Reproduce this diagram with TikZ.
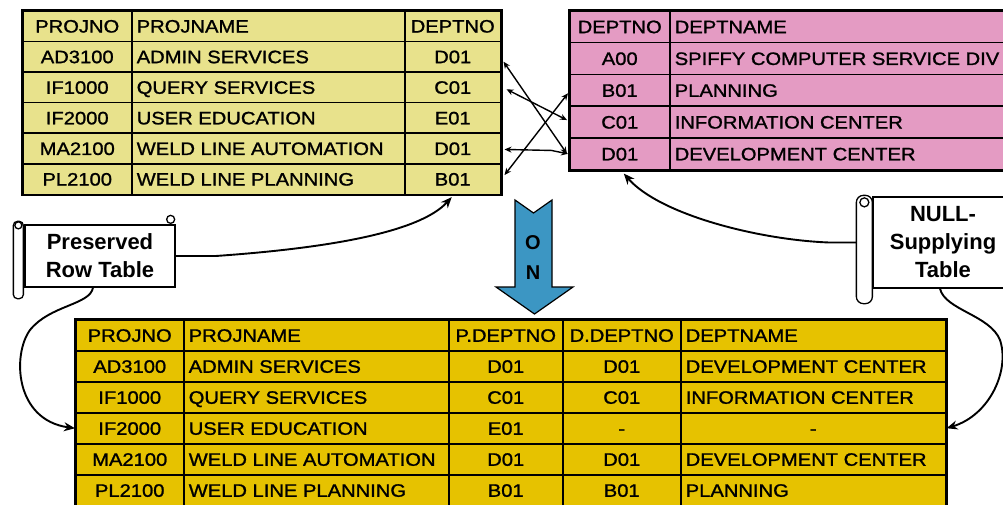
\documentclass[tikz,border=0pt]{standalone}
\usepackage{fontspec}
\setmainfont{Liberation Sans}
\newfontfamily\tabfont{Liberation Sans}[FakeStretch=1.12,FakeBold=1.2]
\usetikzlibrary{arrows.meta,calc}
\definecolor{lightyel}{RGB}{232,226,140}
\definecolor{pinkc}{RGB}{228,155,195}
\definecolor{goldc}{RGB}{230,194,0}
\definecolor{arrowblue}{RGB}{60,150,195}
\tikzset{
  cellbase/.style={draw=black, line width=1.5pt, anchor=north west, inner xsep=5pt, inner ysep=0pt,
    text height=13pt, text depth=0pt, font=\tabfont\fontsize{18}{18}\selectfont},
  outerline/.style={draw=black, line width=2.2pt},
  scrollbox/.style={draw=black, fill=white, line width=1.3pt, inner sep=0pt, align=center,
    font=\bfseries\fontsize{22}{28}\selectfont},
  scrollline/.style={draw=black, fill=white, line width=1.3pt},
  conn/.style={line width=1.9pt, -{Stealth[length=11pt,width=9pt]}},
  cross/.style={line width=1.4pt, {Stealth[length=7pt,width=6pt]}-{Stealth[length=7pt,width=6pt]}},
}
\newcommand\tcell[8]{\node[cellbase, fill=#6, minimum width=#4pt, minimum height=#5pt] (#1) at (#2,#3) {\makebox[\dimexpr#4pt-10pt\relax][#7]{#8}};}
\begin{document}
\begin{tikzpicture}[x=1pt,y=-1pt]
\useasboundingbox (0,0) rectangle (1003,504);
\clip (0,0) rectangle (1003,504);

% left (preserved row) table
\foreach \i/\a/\b/\c in {0/PROJNO/PROJNAME/DEPTNO,1/AD3100/ADMIN SERVICES/D01,2/IF1000/QUERY SERVICES/C01,3/IF2000/USER EDUCATION/E01,4/MA2100/WELD LINE AUTOMATION/D01,5/PL2100/WELD LINE PLANNING/B01}{
  \pgfmathsetmacro\yy{10+30.6*\i}
  \tcell{L-\i-1}{22}{\yy}{109}{30.6}{lightyel}{c}{\a}
  \tcell{L-\i-2}{131}{\yy}{273}{30.6}{lightyel}{l}{\b}
  \tcell{L-\i-3}{404}{\yy}{96}{30.6}{lightyel}{c}{\c}
}
\draw[outerline] (L-0-1.north west) rectangle (L-5-3.south east);

% right (null-supplying) table
\foreach \i/\a/\b in {0/DEPTNO/DEPTNAME,1/A00/SPIFFY COMPUTER SERVICE DIV,2/B01/PLANNING,3/C01/INFORMATION CENTER,4/D01/DEVELOPMENT CENTER}{
  \pgfmathsetmacro\yy{10+31.8*\i}
  \tcell{P-\i-1}{569}{\yy}{100}{31.8}{pinkc}{c}{\a}
  \tcell{P-\i-2}{669}{\yy}{360}{31.8}{pinkc}{l}{\b}
}
\draw[outerline] (P-0-1.north west) rectangle (P-4-2.south east);

% result table
\foreach \i/\a/\b/\c/\d/\e/\al in {0/PROJNO/PROJNAME/P.DEPTNO/D.DEPTNO/DEPTNAME/l,1/AD3100/ADMIN SERVICES/D01/D01/DEVELOPMENT CENTER/l,2/IF1000/QUERY SERVICES/C01/C01/INFORMATION CENTER/l,3/IF2000/USER EDUCATION/E01/-/-/c,4/MA2100/WELD LINE AUTOMATION/D01/D01/DEVELOPMENT CENTER/l,5/PL2100/WELD LINE PLANNING/B01/B01/PLANNING/l}{
  \pgfmathsetmacro\yy{319+31*\i}
  \tcell{B-\i-1}{75}{\yy}{108}{31}{goldc}{c}{\a}
  \tcell{B-\i-2}{183}{\yy}{265}{31}{goldc}{l}{\b}
  \tcell{B-\i-3}{448}{\yy}{114}{31}{goldc}{c}{\c}
  \tcell{B-\i-4}{562}{\yy}{118}{31}{goldc}{c}{\d}
  \tcell{B-\i-5}{680}{\yy}{265}{31}{goldc}{\al}{\e}
}
\draw[outerline] (B-0-1.north west) rectangle (B-5-5.south east);

% crossing join arrows
\draw[cross] ($(L-1-3.east)+(2,5)$) -- ($(P-4-1.west)+(-2,0)$);
\draw[cross] ($(L-2-3.east)+(5,2)$) -- ($(P-3-1.west)+(-2,-2)$);
\draw[cross] ($(L-4-3.east)+(3,1)$) -- ($(L-4-3.east)+(50,2)$) -- ($(P-4-1.west)+(-1,0)$);
\draw[cross] ($(L-5-3.east)+(3,-4)$) -- ($(P-2-1.west)+(-1,3)$);

% ON arrow
\draw[fill=arrowblue, line width=1.2pt, line join=miter] (515,200) -- (533.5,213) -- (552,200) -- (552,287) -- (573,287) -- (534.5,314) -- (496,287) -- (515,287) -- cycle;
\node[font=\bfseries\fontsize{20}{30}\selectfont, align=center, inner sep=0pt] (onlbl) at (533,258) {O\\N};

% Preserved Row Table scroll
\node[scrollbox, minimum width=150pt, minimum height=62pt] (pres) at (100,256) {Preserved\\Row Table};
\draw[scrollline, rounded corners=4pt] ($(pres.north west)+(-11,-3)$) rectangle ($(pres.south west)+(-1,11)$);
\draw[scrollline] ($(pres.north west)+(-6,1)$) circle (3.5pt);
\draw[scrollline] ($(pres.north east)+(-5,-5)$) circle (4pt);

% NULL-Supplying Table scroll
\node[scrollbox, minimum width=140pt, minimum height=91pt] (nulls) at (943,242.5) {NULL-\\Supplying\\Table};
\draw[scrollline, rounded corners=7pt] ($(nulls.north west)+(-16,-1)$) rectangle ($(nulls.south west)+(0,15)$);
\draw[scrollline] ($(nulls.north west)+(-8,6)$) circle (4.5pt);

% connectors from scrolls
\draw[conn] (pres.east) -- +(40,0) .. controls (330,248) and (420,232) .. ($(L-5-3.south)+(-1,2)$);
\draw[conn] ($(pres.south)+(-7,0)$) .. controls (90,305) and (50,305) .. (30,330) .. controls (12,355) and (15,420) .. (B-3-1.west);
\draw[conn] ($(nulls.west)+(-16,0)$) -- +(-27,0) .. controls (760,240) and (660,215) .. ($(P-4-1.south)+(4,3)$);
\draw[conn] ($(nulls.south)+(-3,0)$) .. controls (945,310) and (990,315) .. (1000,340) .. controls (1010,370) and (990,415) .. (B-3-5.east);
\end{tikzpicture}
\end{document}
